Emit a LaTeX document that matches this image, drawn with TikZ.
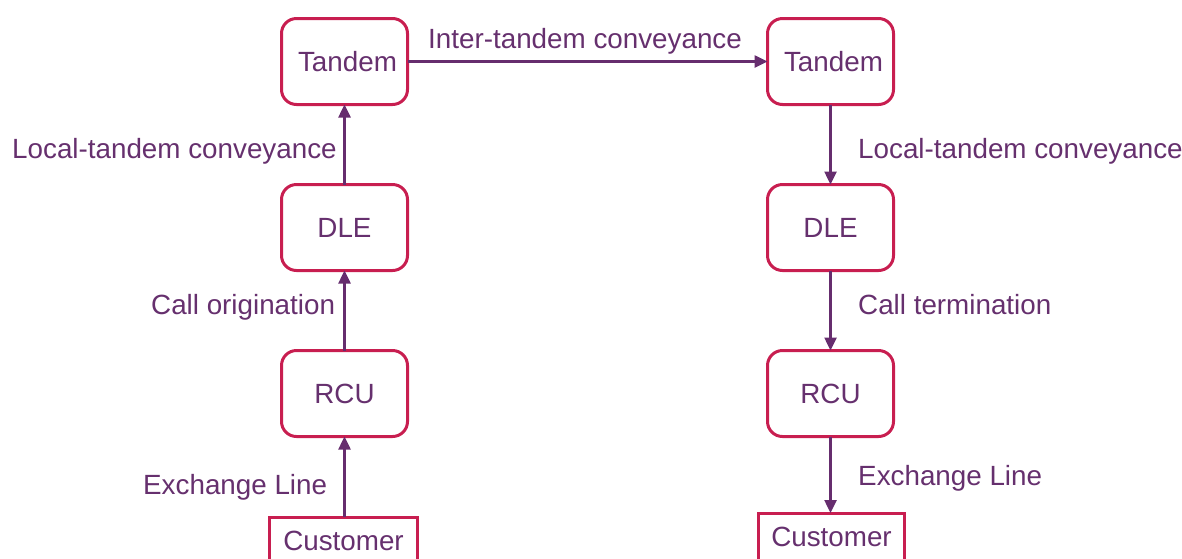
\documentclass[tikz,border=0pt]{standalone}
\usepackage{fontspec}
\setmainfont{Liberation Sans}
\usetikzlibrary{arrows.meta}
\definecolor{txt}{HTML}{66306E}
\definecolor{bord}{HTML}{C81E50}
\definecolor{arr}{HTML}{662D6E}
\begin{document}
\begin{tikzpicture}[x=1pt,y=-1pt,
  every node/.style={font=\fontsize{27.8}{32}\selectfont, text=txt},
  rbox/.style={draw=bord, line width=3pt, rounded corners=15pt, minimum width=126pt, minimum height=86pt, inner sep=0pt, outer sep=0pt},
  cbox/.style={draw=bord, line width=3pt, minimum height=48pt, inner sep=0pt, outer sep=0pt},
  lab/.style={anchor=base west, inner sep=0pt},
  conn/.style={draw=arr, line width=2.5pt, -{Triangle[length=13pt,width=12pt]}}]
\useasboundingbox (0,0) rectangle (1182,558);
\node[rbox] (lt) at (344.5,61.5) {\hspace*{6pt}Tandem};
\node[rbox] (ld) at (344.5,227.5) {DLE};
\node[rbox] (lr) at (344.5,393.5) {RCU};
\node[cbox, minimum width=148pt] (lc) at (343.5,541) {Customer};
\node[rbox] (rt) at (830.5,61.5) {\hspace*{6pt}Tandem};
\node[rbox] (rd) at (830.5,227.5) {DLE};
\node[rbox] (rr) at (830.5,393.5) {RCU};
\node[cbox, minimum width=146pt] (rc) at (831.5,537) {Customer};
\draw[conn] (lc.north -| lr.south) -- (lr.south);
\draw[conn] (lr) -- (ld);
\draw[conn] (ld) -- (lt);
\draw[conn] (lt) -- (rt);
\draw[conn] (rt) -- (rd);
\draw[conn] (rd) -- (rr);
\draw[conn] (rr.south) -- (rc.north -| rr.south);
\node[lab] (l1) at (428,48) {Inter-tandem conveyance};
\node[lab] (l2) at (12,158) {Local-tandem conveyance};
\node[lab] (l3) at (858,158) {Local-tandem conveyance};
\node[lab] (l4) at (151,314) {Call origination};
\node[lab] (l5) at (858,314) {Call termination};
\node[lab] (l6) at (143,494) {Exchange Line};
\node[lab] (l7) at (858,485) {Exchange Line};
\end{tikzpicture}
\end{document}
